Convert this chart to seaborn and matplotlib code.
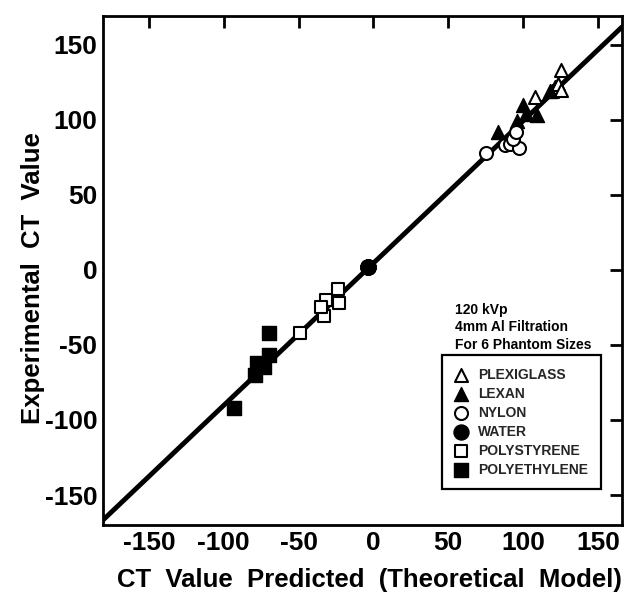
import matplotlib
matplotlib.use("Agg")
import matplotlib.pyplot as plt
import seaborn as sns
import pandas as pd

# ---- data ----
plexi_x = [108, 119, 121, 123, 125, 125]
plexi_y = [115, 119, 122, 124, 120, 133]
lexan_x = [83, 96, 100, 102, 109, 118]
lexan_y = [92, 99, 110, 104, 103, 119]
nylon_x = [75, 88, 91, 97, 93, 95]
nylon_y = [78, 83, 84, 81, 87, 92]
water_x = [-4, -4, -4, -4, -4, -4]
water_y = [2, 2, 2, 2, 2, 2]
polystyrene_x = [-24, -32, -23, -33, -35, -49]
polystyrene_y = [-13, -20, -22, -31, -25, -42]
polyethylene_x = [-93, -79, -78, -73, -70, -70]
polyethylene_y = [-92, -70, -62, -65, -57, -42]
fit_x = [-181, 166]
fit_y = [-167, 162]

materials = ["PLEXIGLASS", "LEXAN", "NYLON", "WATER", "POLYSTYRENE", "POLYETHYLENE"]
xs = [plexi_x, lexan_x, nylon_x, water_x, polystyrene_x, polyethylene_x]
ys = [plexi_y, lexan_y, nylon_y, water_y, polystyrene_y, polyethylene_y]
x_ticks = [-150, -100, -50, 0, 50, 100, 150]
y_ticks = [-150, -100, -50, 0, 50, 100, 150]
info_lines = ["120 kVp", "4mm Al Filtration", "For 6 Phantom Sizes"]

rows = []
for m, xv, yv in zip(materials, xs, ys):
    for a, b in zip(xv, yv):
        rows.append({"material": m, "pred": a, "exp": b})
df = pd.DataFrame(rows)

# ---- styling ----
sns.set_theme(style="white")
plt.rcParams["font.family"] = ["Liberation Sans", "DejaVu Sans"]
plt.rcParams["axes.unicode_minus"] = False

styles = {
    "PLEXIGLASS": dict(marker="^", filled=False, size=13),
    "LEXAN": dict(marker="^", filled=True, size=14),
    "NYLON": dict(marker="o", filled=False, size=13),
    "WATER": dict(marker="o", filled=True, size=15),
    "POLYSTYRENE": dict(marker="s", filled=False, size=12.5),
    "POLYETHYLENE": dict(marker="s", filled=True, size=14.5),
}

fig = plt.figure(figsize=(6.26, 6.02), dpi=100)
ax = fig.add_axes([0.1645, 0.1279, 0.8291, 0.8455])

sns.lineplot(x=fit_x, y=fit_y, ax=ax, color="black", linewidth=3.5, zorder=2)

for m in materials:
    st = styles[m]
    sub = df[df["material"] == m]
    s = (st["size"] * 0.72) ** 2
    if st["filled"]:
        sns.scatterplot(data=sub, x="pred", y="exp", ax=ax, marker=st["marker"],
                        s=s, color="black", edgecolor="black", linewidth=1.0,
                        label=m, zorder=3)
    else:
        sns.scatterplot(data=sub, x="pred", y="exp", ax=ax, marker=st["marker"],
                        s=s, facecolor="white", edgecolor="black", linewidth=1.5,
                        label=m, zorder=3)

ax.set_xlim(-180.7, 166)
ax.set_ylim(-170, 169.3)
ax.set_xticks(x_ticks)
ax.set_yticks(y_ticks)
ax.set_xticklabels([str(t) for t in x_ticks])
ax.set_yticklabels([str(t) for t in y_ticks])

for sp in ax.spines.values():
    sp.set_linewidth(2.0)
    sp.set_color("black")
ax.tick_params(direction="in", length=8.5, width=2.0, color="black",
               top=True, right=True, labelsize=19, pad=4,
               labelcolor="black")
for lab in ax.get_xticklabels() + ax.get_yticklabels():
    lab.set_fontweight("bold")

ax.set_xlabel("CT  Value  Predicted  (Theoretical  Model)", fontsize=18.5,
              fontweight="bold", color="black")
ax.set_ylabel("Experimental  CT  Value", fontsize=18.5, fontweight="bold",
              color="black")
ax.xaxis.set_label_coords(0.514, -0.108)
ax.xaxis.label.set_va("center")
ax.yaxis.set_label_coords(-0.135, 0.486)
ax.yaxis.label.set_va("center")

info_y = [0.4224, 0.389, 0.354]
for t, yy in zip(info_lines, info_y):
    ax.text(0.678, yy, t, transform=ax.transAxes, fontsize=10,
            fontweight="bold", va="center", ha="left", color="black")

leg = ax.legend(loc="lower left", bbox_to_anchor=(0.653, 0.0707),
                borderaxespad=0, frameon=True, fancybox=False,
                prop={"weight": "bold", "size": 10}, labelspacing=0.36,
                borderpad=0.9, handlelength=1.0, handletextpad=0.7,
                markerscale=1.0)
leg.get_frame().set_edgecolor("black")
leg.get_frame().set_linewidth(1.6)
leg.get_frame().set_facecolor("white")
leg.get_frame().set_alpha(1)

fig.savefig("out.png", dpi=100)
